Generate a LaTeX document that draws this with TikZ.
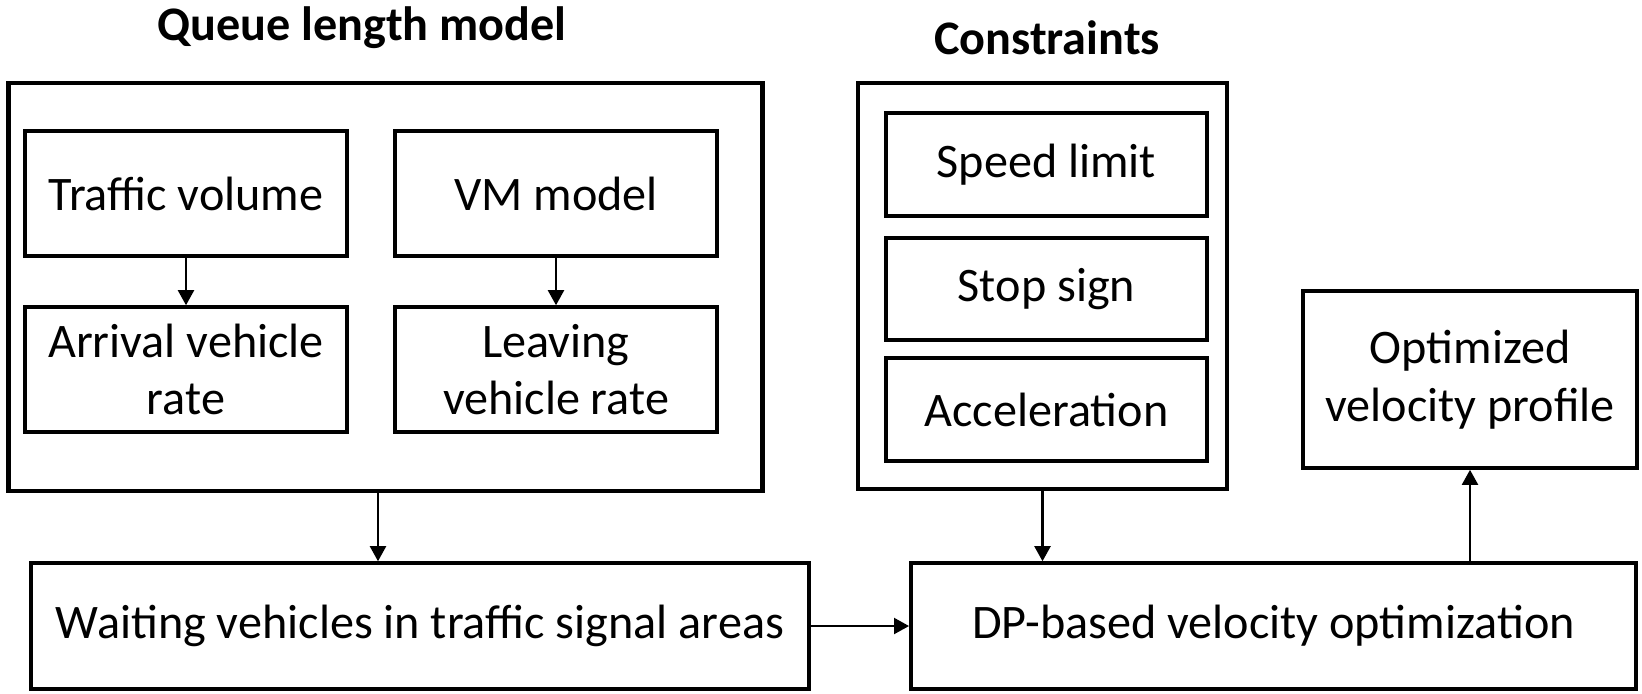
\documentclass[tikz,border=0pt]{standalone}
\usepackage{fontspec}
\setmainfont{Carlito}
\usetikzlibrary{arrows.meta}

\begin{document}
\begin{tikzpicture}[x=0.01cm,y=-0.01cm,
  outerbox/.style={draw,line width=1.3pt,inner sep=0pt},
  innerbox/.style={draw,line width=1pt,inner sep=0pt,align=center,font=\fontsize{13.7}{16.3}\selectfont},
  blocktitle/.style={font=\fontsize{13.7}{16}\selectfont\bfseries},
  flow/.style={-{Triangle[length=1.5mm,width=1.6mm]},line width=0.6pt}]
\useasboundingbox (0,0) rectangle (1642,693);

% queue length model
\node[blocktitle] (qtitle) at (362,28) {Queue length model};
\node[outerbox,minimum width=7.53cm,minimum height=4.08cm] (queue) at (385.5,287) {};
\node[innerbox,minimum width=3.22cm,minimum height=1.25cm] (traffic) at (186,193.5) {Traffic volume};
\node[innerbox,minimum width=3.22cm,minimum height=1.25cm] (vm) at (556,193.5) {VM model};
\node[innerbox,minimum width=3.22cm,minimum height=1.25cm] (arrival) at (186,369.5) {Arrival vehicle\\rate};
\node[innerbox,minimum width=3.22cm,minimum height=1.25cm] (leaving) at (556,369.5) {Leaving\\vehicle rate};
\draw[flow] (traffic.south) -- (arrival.north);
\draw[flow] (vm.south) -- (leaving.north);

% constraints
\node[blocktitle] (ctitle) at (1047,38) {Constraints};
\node[outerbox,minimum width=3.69cm,minimum height=4.06cm] (cons) at (1042.5,286) {};
\node[innerbox,minimum width=3.21cm,minimum height=1.03cm] (speed) at (1046.5,164.5) {Speed limit};
\node[innerbox,minimum width=3.21cm,minimum height=1.02cm] (stop) at (1046.5,289) {Stop sign};
\node[innerbox,minimum width=3.21cm,minimum height=1.03cm] (accel) at (1046.5,409.5) {Acceleration};

% optimization
\node[innerbox,minimum width=7.78cm,minimum height=1.26cm] (waiting) at (420,626) {Waiting vehicles in traffic signal areas};
\node[innerbox,minimum width=7.25cm,minimum height=1.26cm] (dp) at (1273.5,626) {DP-based velocity optimization};
\node[innerbox,minimum width=3.34cm,minimum height=1.77cm] (optim) at (1470,379.5) {Optimized\\velocity profile};

\draw[flow] ([xshift=-0.075cm]queue.south) -- ([xshift=-0.075cm]queue.south |- waiting.north);
\draw[flow] (cons.south) -- (cons.south |- dp.north);
\draw[flow] (waiting.east) -- (dp.west);
\draw[flow] (optim.south |- dp.north) -- (optim.south);

\end{tikzpicture}
\end{document}
